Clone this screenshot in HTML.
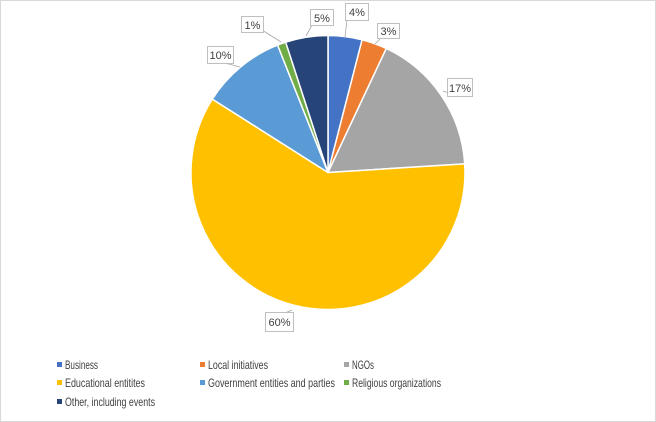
<!DOCTYPE html>
<html><head><meta charset="utf-8"><style>
body{margin:0;background:#fff}
svg{display:block;font-family:"Liberation Sans",sans-serif}
</style></head><body>
<svg width="656" height="422" viewBox="0 0 656 422">
<rect x="0.5" y="0.5" width="655" height="421" fill="#fff" stroke="#d9d9d9"/>
<g stroke="#fff" stroke-width="1.5" stroke-linejoin="round">
<path d="M328,172.5 L328,35.5 A137,137 0 0 1 362.1,39.8 Z" fill="#4472C4"/>
<path d="M328,172.5 L362.1,39.8 A137,137 0 0 1 386.3,48.5 Z" fill="#ED7D31"/>
<path d="M328,172.5 L386.3,48.5 A137,137 0 0 1 464.7,163.9 Z" fill="#A5A5A5"/>
<path d="M328,172.5 L464.7,163.9 A137,137 0 1 1 212.3,99.1 Z" fill="#FFC000"/>
<path d="M328,172.5 L212.3,99.1 A137,137 0 0 1 277.6,45.1 Z" fill="#5B9BD5"/>
<path d="M328,172.5 L277.6,45.1 A137,137 0 0 1 285.7,42.2 Z" fill="#70AD47"/>
<path d="M328,172.5 L285.7,42.2 A137,137 0 0 1 328,35.5 Z" fill="#264478"/>
</g>
<g stroke="#a6a6a6" stroke-width="0.8" fill="none">
<path d="M345,37 L347,20"/><path d="M375,44 L381,38"/><path d="M443,91 L455,95"/>
<path d="M306,36 L312,25"/><path d="M281,42 L262,30"/><path d="M240,67 L225,63"/>
<path d="M292,310 L285,313"/>
</g>
<g fill="#fff" stroke="#bfbfbf" stroke-width="1">
<rect x="345.5" y="3.5" width="23" height="17"/>
<rect x="377.5" y="23.5" width="22" height="15"/>
<rect x="447.5" y="78.5" width="25" height="18"/>
<rect x="310.5" y="9.5" width="23" height="16"/>
<rect x="241.5" y="16.5" width="22" height="16"/>
<rect x="207.5" y="46.5" width="26" height="17"/>
<rect x="265.5" y="312.5" width="28" height="19"/>
</g>
<g font-size="11" fill="#404040" text-anchor="middle">
<text x="357" y="16">4%</text>
<text x="388.5" y="35">3%</text>
<text x="460" y="92">17%</text>
<text x="322" y="22">5%</text>
<text x="252.5" y="29">1%</text>
<text x="220.5" y="59">10%</text>
<text x="279.5" y="326">60%</text>
</g>
<g font-size="12" fill="#404040">
<rect x="57" y="362" width="5" height="5" fill="#4472C4"/><text x="65" y="369" textLength="33" lengthAdjust="spacingAndGlyphs">Business</text>
<rect x="200" y="362" width="5" height="5" fill="#ED7D31"/><text x="208" y="369" textLength="60" lengthAdjust="spacingAndGlyphs">Local initiatives</text>
<rect x="344" y="362" width="5" height="5" fill="#A5A5A5"/><text x="352" y="369" textLength="22" lengthAdjust="spacingAndGlyphs">NGOs</text>
<rect x="57" y="380" width="5" height="5" fill="#FFC000"/><text x="65" y="387" textLength="80" lengthAdjust="spacingAndGlyphs">Educational entitites</text>
<rect x="200" y="380" width="5" height="5" fill="#5B9BD5"/><text x="208" y="387" textLength="127" lengthAdjust="spacingAndGlyphs">Government entities and parties</text>
<rect x="344" y="380" width="5" height="5" fill="#70AD47"/><text x="352" y="387" textLength="89" lengthAdjust="spacingAndGlyphs">Religious organizations</text>
<rect x="57" y="399" width="5" height="5" fill="#264478"/><text x="65" y="406" textLength="90" lengthAdjust="spacingAndGlyphs">Other, including events</text>
</g>
</svg>
</body></html>
